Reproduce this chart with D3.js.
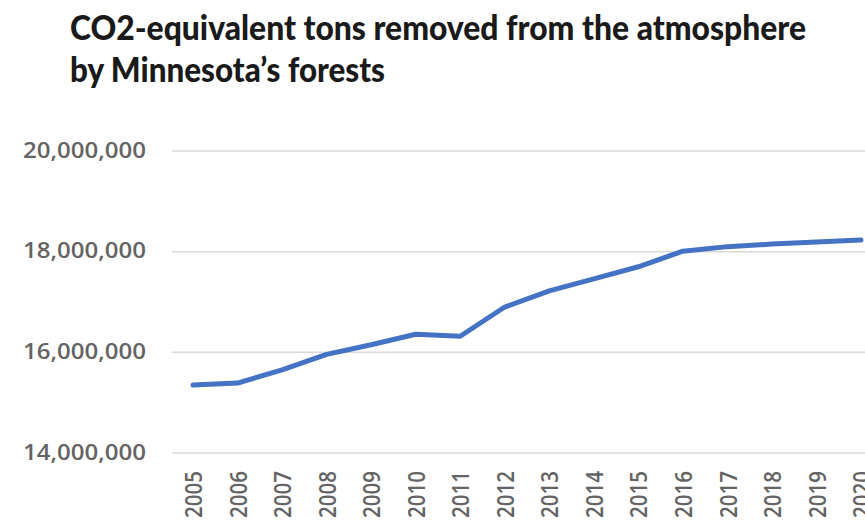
<!DOCTYPE html>
<html>
<head>
<meta charset="utf-8">
<script src="https://cdn.jsdelivr.net/npm/d3@7"></script>
<style>
  html, body { margin: 0; padding: 0; background: #fff; }
  svg { display: block; }
</style>
</head>
<body>
<svg id="chart" width="865" height="524"></svg>
<script>
// Annual CO2-equivalent tons removed by Minnesota's forests
const years = [2005, 2006, 2007, 2008, 2009, 2010, 2011, 2012, 2013, 2014, 2015, 2016, 2017, 2018, 2019, 2020];
const tonsRemoved = [15350000, 15390000, 15650000, 15960000, 16150000, 16360000, 16320000, 16900000,
                     17220000, 17460000, 17700000, 18010000, 18100000, 18150000, 18190000, 18230000];
const yTicks = [14000000, 16000000, 18000000, 20000000];
const titleLines = ["CO2-equivalent tons removed from the atmosphere", "by Minnesota\u2019s forests"];

const svg = d3.select("#chart");
const W = 865, H = 524;

const x = d3.scalePoint().domain(years).range([193, 861]);
const y = d3.scaleLinear().domain([14000000, 20000000]).range([453, 151]);

// Title
const titleWidths = [736, 315];
titleLines.forEach((t, i) => {
  svg.append("text")
    .attr("x", 70)
    .attr("y", 40 + i * 42)
    .attr("font-family", "Lato, 'Noto Sans', sans-serif")
    .attr("font-weight", 900)
    .attr("font-size", 34)
    .attr("fill", "#1a1a1a")
    .attr("textLength", titleWidths[i])
    .attr("lengthAdjust", "spacingAndGlyphs")
    .text(t);
});

// Horizontal gridlines
svg.append("g")
  .selectAll("line")
  .data(yTicks)
  .join("line")
  .attr("x1", 172)
  .attr("x2", W)
  .attr("y1", d => y(d))
  .attr("y2", d => y(d))
  .attr("stroke", "#d9d9d9")
  .attr("stroke-width", 1.5);

// Y axis labels
const yAxis = d3.axisLeft(y)
  .tickValues(yTicks)
  .tickFormat(d3.format(","))
  .tickSize(0)
  .tickPadding(0);
const gy = svg.append("g").attr("transform", "translate(146,0)").call(yAxis);
gy.select(".domain").remove();
gy.selectAll("text")
  .attr("font-family", "'Open Sans', Lato, sans-serif")
  .attr("font-weight", 600)
  .attr("font-size", 21)
  .attr("fill", "#646464")
  .attr("textLength", 123)
  .attr("lengthAdjust", "spacingAndGlyphs")
  .attr("dy", "0.3em");

// X axis labels (rotated)
const xAxis = d3.axisBottom(x).tickSize(0).tickPadding(0).tickFormat(d3.format("d"));
const gx = svg.append("g").attr("transform", "translate(0,471)").call(xAxis);
gx.select(".domain").remove();
gx.selectAll("text")
  .attr("font-family", "'Open Sans', 'Liberation Sans', sans-serif")
  .attr("font-weight", 600)
  .attr("font-size", 24)
  .attr("fill", "#646464")
  .attr("text-anchor", "end")
  .attr("textLength", 47)
  .attr("lengthAdjust", "spacingAndGlyphs")
  .attr("transform", "rotate(-90)")
  .attr("x", 0)
  .attr("y", 0)
  .attr("dx", 0)
  .attr("dy", "0.36em");

// Series line
const line = d3.line()
  .x((d, i) => x(years[i]))
  .y(d => y(d));

svg.append("path")
  .datum(tonsRemoved)
  .attr("d", line)
  .attr("fill", "none")
  .attr("stroke", "#4472c4")
  .attr("stroke-width", 5)
  .attr("stroke-linejoin", "round")
  .attr("stroke-linecap", "round");
</script>
</body>
</html>
